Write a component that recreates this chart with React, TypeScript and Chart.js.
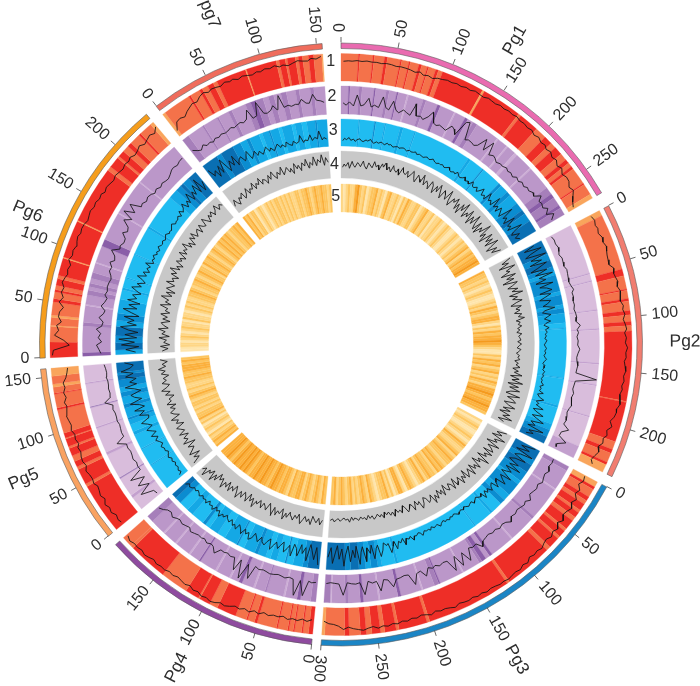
import React, { useEffect, useRef } from "react";
import { Chart, registerables } from "chart.js";

Chart.register(...registerables);

const SECTOR_NAMES = ["Pg1", "Pg2", "Pg3", "Pg4", "Pg5", "Pg6", "pg7"];
const SECTOR_START = [0, 62.6, 118.2, 185.6, 230.5, 267.4, 322.2];
const SECTOR_END = [59.8, 116, 183.8, 228.4, 265.3, 319.8, 356.4];
const SECTOR_LENGTH = [274, 243, 300, 195, 158, 238, 155];
const SECTOR_COLOR = ["#e96bb0", "#f17d70", "#1b85c5", "#8f4b9f", "#f9a261", "#f59d1c", "#ef6c5c"];
const TICKS = [
  [0, 50, 100, 150, 200, 250],
  [0, 50, 100, 150, 200],
  [0, 50, 100, 150, 200, 250, 300],
  [0, 50, 100, 150],
  [0, 50, 100, 150],
  [0, 50, 100, 150, 200],
  [0, 50, 100, 150],
];
const TICK_ON_RIGHT = [true, true, true, false, false, false, false];
const NAME_ANGLE = [29.8, 89.6, 150.9, 206.9, 246.9, 292.9, 338.3];
const NAME_RADIUS = [350, 344, 361, 363, 345, 340, 355];
const TRACK_LABELS = ["1", "2", "3", "4", "5"];
const TRACK_LABEL_RADIUS = [283, 248, 214, 180, 147.5];

// Ring 1 runs (level 0 orange .. 3 red), each run has a level and a length
const R1_L_PG1 = [1,3,1,3,1,3,1,3,1,3,1,3,1,3,1,3,1,3,0,3,1,3,1,3,1,3,1,3,1,3,1,3,1,0];
const R1_W_PG1 = [12,1,9,1,7,2,9,1,5,1,6,2,4,1,5,2,3,30,1.5,28,2,14,8,6,4,6,5,3,3,2,12,1,8,3];
const R1_L_PG2 = [0,1,3,1,3,1,3,1,3,1,3,1,3,1,3,1,3,1,3,0];
const R1_W_PG2 = [4,42,5,10,1,6,2,7,3,5,3,4,52,0.6,30,6,3,7,2,6];
const R1_L_PG3 = [0,3,1,3,1,3,1,3,1,3,1,3,1,3,1,3,1,3,1,3,1,3,1,3,1,3,1,3,1,0];
const R1_W_PG3 = [4,2,6,3,3,5,2,4,3,7,2,5,2,8,3,34,2,60,2,20,2,8,3,6,4,4,8,3,14,2];
const R1_L_PG4 = [3,1,3,1,3,1,3,1,3,1,3,1,3,1,3,1,3,1,3,1,3,1,1];
const R1_W_PG4 = [3,4,1,5,1,3,1,7,1,14,2,5,1,8,14,6,8,1,10,20,28,2,8];
const R1_L_PG5 = [3,1,3,1,3,1,3,1,3,1,3,1,3,1,3,1,0,1,0];
const R1_W_PG5 = [52,3,16,3,6,6,8,2,8,1,5,24,2,14,1,6,3,8,8];
const R1_L_PG6 = [3,1,0,1,0,1,3,1,3,1,3,1,3,0,3,0,3,1,3,1,3,1,3,1,3,1,0];
const R1_W_PG6 = [14,14,1,7,2,12,3,6,2,4,6,3,16,1,34,1,52,4,10,2,6,6,4,10,2,12,3];
const R1_L_PG7 = [0,1,3,1,3,1,3,1,3,0,3,1,3,1,3,1,3,1,3,1,0];
const R1_W_PG7 = [3,28,2,10,3,6,6,4,30,1,30,3,6,2,8,3,4,6,5,8,1];

// Ring 2 runs (level 0 pale .. 3 dark purple)
const R2_L_PG1 = [1,3,1,2,1,3,1,2,1,3,1,0,1,2,1,3,1,0,1,3,1,2,1,0,1,0,1,0,1,0,1,2,3,2,3,2];
const R2_W_PG1 = [5,1,6,2,8,1,7,2,5,1,6,1,10,2,8,2,10,1,7,2,4,3,16,1,7,1,6,2,12,1,16,5,3,6,2,5];
const R2_L_PG2 = [1,2,1,2,1,2,1,2,1,2,1,2,1,2,1,2];
const R2_W_PG2 = [40,1,5,1,22,1,14,1,26,1,16,1,24,1,24,10];
const R2_L_PG3 = [2,1,0,1,2,1,0,1,3,1,3,2,1,0,1,3,2,1,0,1,3,1,0,1,3,1,2,1,0,2];
const R2_W_PG3 = [3,14,1,22,2,18,1,16,2,3,3,2,12,1,16,1,3,8,1,14,2,12,1,10,2,8,2,9,1,4];
const R2_L_PG4 = [2,1,3,1,0,1,2,1,0,1,3,1,0,1,0,1,3,1,0,1,0,1,0,1,2];
const R2_W_PG4 = [3,6,2,7,1,10,1,6,1,7,2,5,1,8,1,10,1,6,1,9,1,8,1,9,4];
const R2_L_PG5 = [1,2,1,3,1,2,1,2,1,3,1,2,1];
const R2_W_PG5 = [10,2,14,1,18,2,18,1,14,1,16,1,12];
const R2_L_PG6 = [3,1,2,1,0,1,2,1,2,1,2,1,0,1,3,1,0,1,0,1];
const R2_W_PG6 = [3,22,3,14,1,8,4,3,3,4,5,8,1,14,6,24,1,30,1,40];
const R2_L_PG7 = [2,1,2,1,2,1,2,1,2,3,2,1,2,1,2,1,2,1,2,1];
const R2_W_PG7 = [4,9,1,8,1,6,2,8,3,3,4,3,3,4,3,5,2,6,2,6];

// Ring 3 runs (level 0 sky .. 3 deep blue)
const R3_L_PG1 = [0,1,0,2,0,1,0,1,0,1,0,1,0,2,0,2,1,2,1,2,3,2,3];
const R3_W_PG1 = [12,1,10,1,6,1,10,2,8,1,40,2,10,1,14,2,6,3,7,6,3,6,8];
const R3_L_PG2 = [3,2,3,2,1,2,1,2,1,2,1,0,1,0,1,0,1,0,1,2,3];
const R3_W_PG2 = [12,5,6,4,3,14,3,8,3,4,8,4,1,40,1,22,2,14,5,6,6];
const R3_L_PG3 = [3,2,3,2,1,2,1,2,0,1,0,1,0,1,0,1,2,1,2,3,2,3];
const R3_W_PG3 = [8,4,6,8,3,10,5,4,8,2,14,1,62,2,10,3,5,4,5,6,4,14];
const R3_L_PG4 = [3,2,1,0,2,0,1,0,1,2,1,0,2,1,0,1,0,2,0,1,0,2,3];
const R3_W_PG4 = [7,3,6,4,1,5,4,3,5,2,7,4,1,8,5,6,3,2,8,4,6,4,3];
const R3_L_PG5 = [0,1,0,1,0,1,0,1,2,1,2,1,2,1,2,3,2,3];
const R3_W_PG5 = [22,1,14,1,12,3,6,4,2,8,3,6,4,4,6,4,2,8];
const R3_L_PG6 = [1,3,2,3,1,2,1,0,1,0,1,0,1,0,1,0,1,2,3,2,3];
const R3_W_PG6 = [4,6,6,8,5,6,12,8,2,8,1,20,1,24,2,30,8,5,3,6,8];
const R3_L_PG7 = [3,2,3,2,1,2,1,0,1,2,1,0,1,0,1,0,1,2,1];
const R3_W_PG7 = [10,3,8,5,4,2,6,2,4,1,5,2,6,2,4,3,5,1,6];

// Ring 4 is one flat run in every sector
const R4_L = [0];
const R4_W = [1];

// Ring 5 cells, equal length (level 0 pale yellow .. 4 orange)
const H5_PG1 = [1,0,1,2,1,1,3,4,2,1,2,0,1,2,2,3,1,2,1,0,2,3,1,1,2,1,0,2,1,3,2,1,1,2,2,0,1,2,3,1,1,2,0,1,1,2,1,0,1,2,1,0,0,1,2,1,0,1,2,1,2,3,1,2,3,2,3,3,4,3];
const H5_PG2 = [3,2,2,1,2,1,0,1,2,1,0,0,1,2,1,3,2,1,2,3,3,1,0,2,1,3,2,3,3,4,3,2,1,0,0,2,1,3,2,3,1,2,3,1,2,1,3,2,1,3,3,4,3,2,3,3,4,3,3,2];
const H5_PG3 = [1,0,1,2,1,0,0,1,2,1,0,1,3,2,1,1,2,3,1,2,3,2,2,1,2,3,2,3,1,2,2,3,2,1,3,2,1,0,1,2,3,2,0,1,3,3,1,0,2,1,3,2,2,1,0,1,2,3,1,2,3,2,1,2,1,3,2,1,2,3,2,1,3,2];
const H5_PG4 = [2,3,1,2,3,2,1,2,3,2,1,3,3,2,2,3,1,2,3,3,2,3,3,4,3,2,3,3,4,3,3,4,3,3,2,3,4,3,4,3,3,4,3,2,3,4,3,3,3];
const H5_PG5 = [3,2,3,2,1,2,0,1,2,1,0,2,1,3,2,2,1,2,1,2,2,1,2,3,2,1,2,1,1,2,2,3,2,2,3,3,3,2,3,2];
const H5_PG6 = [0,0,1,1,0,1,2,1,0,1,2,1,1,0,2,1,1,0,1,2,1,2,1,1,2,2,3,2,1,2,2,3,2,1,2,3,2,2,1,3,2,2,3,2,1,2,3,2,1,2,3,2,3,2,3,2,1,2,2,3,2,3];
const H5_PG7 = [3,2,3,1,2,2,0,1,2,1,0,1,2,1,2,1,2,2,1,2,1,2,1,2,1,1,2,2,1,2,2,3,2,1,2,3,2,2,3,2,2,1,2];

// Line values in percent of the track's height, inner edge = 0
const L1_PG1 = [70,72,71,74,72,75,73,74,72,75,74,71,73,72,70,66,72,64,68,63,70,72,76,74,78,75,80,77,83,80,78,84,82,80,85,82,86,83,87,82,84,80,84,76,82,74,78,70,76,66,72,60,68,55,62,60,48,55,42,30,22];
const L1_PG2 = [63,68,62,66,60,68,64,70,65,62,60,58,72,66,70,74,68,76,72,70,78,74,80,72,78,82,74,80,76,84,78,80,74,78,82,76,80,74,78,72,76,80,72,74,70,60,72,58,65,55,60,48,58,50,44,54];
const L1_PG3 = [50,55,45,60,52,68,58,72,64,60,74,62,78,70,80,72,76,84,78,82,76,88,82,90,86,88,92,88,90,86,84,88,82,86,80,84,82,78,86,80,76,78,72,80,74,70,76,72,78,74,80,76,82,78,84,76,80,86,82,78,72,80,68,62,60,52];
const L1_PG4 = [50,58,52,60,56,62,54,60,58,64,58,68,62,72,66,74,70,78,84,80,88,92,86,90,82,86,78,84,80,76,82,78,84,82,86,80,86,90,84,88,86,92,84];
const L1_PG5 = [70,74,68,78,72,80,68,76,70,66,74,70,72,78,68,74,72,66,70,62,68,64,72,66,70,74,68,64,70,60,66,58,62,50,44,40];
const L1_PG6 = [92,88,30,50,84,70,78,62,74,72,60,78,66,76,70,80,74,68,72,66,78,70,74,68,72,76,70,74,72,66,70,74,68,72,66,70,62,68,64,60,66,62,58,64,60,66,58,62,70,60,66,72,64,80];
const L1_PG7 = [20,46,50,44,56,62,70,66,78,84,76,82,80,76,84,78,82,74,80,76,72,78,74,80,76,82,74,78,72,78,84,80,78,86,82,90];

const L2_PG1 = [38,30,42,28,68,30,35,60,30,38,32,72,36,30,64,34,28,42,36,30,76,34,38,30,46,68,32,28,34,30,26,50,44,28,86,92,30,36,34,30,38,74,36,78,34,42,38,30,36,34,40,34,38,32,42,36,44,38,46,42,50,44,66,48,52,46,60,44,68,50];
const L2_PG2 = [20,24,22,26,22,18,24,22,20,26,24,22,20,24,30,22,24,20,22,18,22,24,20,34,22,26,20,24,22,30,24,20,22,26,24,22,98,24,22,20,26,22,24,30,24,20,24,26,22,46,24,22,54,26,28];
const L2_PG3 = [40,42,38,48,40,44,50,40,46,42,38,54,42,48,44,40,46,42,56,44,40,46,38,42,36,40,44,60,38,42,36,78,38,80,36,84,40,38,44,36,42,34,60,36,40,76,36,34,38,40,64,36,32,70,34,38,30,76,32,36,34,30,74,34,32,30,34];
const L2_PG4 = [33,36,32,86,34,90,34,30,36,32,30,34,36,32,30,34,28,78,30,90,26,70,28,32,26,30,28,50,32,28,34,26,30,28,32,36,26,30,34,28,32,40,30,34,44,52];
const L2_PG5 = [22,26,70,24,60,24,72,22,24,20,26,22,20,24,22,52,20,22,20,18,22,20,20,24,20,46,22,20,22,20,20,24,20,22,26];
const L2_PG6 = [35,42,50,32,44,36,52,34,30,46,32,28,44,34,28,38,32,36,34,30,34,44,40,52,38,44,62,36,40,32,34,52,38,44,70,46,86,50,80,42,46,38,44,40,32,38,30,36,32,30,36,44,46,42,48,50];
const L2_PG7 = [48,36,30,42,32,36,30,38,34,40,36,38,44,38,42,46,40,48,78,42,46,92,46,42,48,62,44,92,46,50,44,48,46,62,46,44,74,52,48,42];

const L3_PG1 = [18,27,22,30,20,25,17,24,28,21,19,26,23,30,22,18,25,21,27,24,20,28,23,26,19,22,25,21,24,27,23,20,26,22,24,28,21,25,23,20,24,27,22,25,30,23,21,26,24,28,22,25,32,24,21,27,23,34,25,22,28,36,24,30,22,40,26,24,34,20,28,46,22,30,18,52,26,34,20,62,24,38,18,44,28,16,70,24,36,14,58,20,30,12,66,26,14,42,20,34];
const L3_PG2 = [66,24,88,40,18,94,32,70,22,84,46,16,76,28,92,38,60,20,82,30,54,72,24,64,36,18,58,44,26,68,30,20,50,36,24,46,28,20,38,24,30,22,26,20,28,24,18,22,26,20,24,18,22,28,20,16,24,22,18,26,20,24,18,22,20,30,18,24,20,36,16,26,44,18,30,22,52,16,28,60,20,38,70,24,44,18,82,30,50,24];
const L3_PG3 = [84,32,68,20,90,44,26,76,36,18,62,30,80,24,54,38,20,70,28,46,64,24,34,52,22,30,44,26,38,24,48,22,32,26,20,28,34,22,26,30,24,20,28,22,26,32,24,20,26,22,30,24,28,20,26,34,22,24,28,20,30,24,26,22,36,24,20,28,26,40,22,30,24,46,20,34,26,52,22,38,60,24,30,18,44,66,22,34,70,18,48,26,76,20,40,84,16,58,30,72,14,46,88,24,62,12,36,78,20,56];
const L3_PG4 = [88,24,70,36,16,78,30,54,22,66,40,26,72,34,48,64,28,44,58,36,50,70,32,46,62,54,38,60,48,34,56,66,42,52,36,60,44,32,54,40,48,30,44,36,26,40,32,48,28,36,24,42,30,34,22,38,28,32,24,34,28,22,30,24,32,36,28,40];
const L3_PG5 = [34,22,28,20,24,18,26,20,30,22,18,26,24,32,20,28,38,24,46,22,34,52,26,40,60,30,24,56,34,68,28,44,76,30,54,66,26,48,80,36,60,34,72,42,86,50,38,70];
const L3_PG6 = [26,62,14,78,30,88,22,66,18,54,84,26,60,36,74,20,50,82,32,64,24,72,40,58,28,46,68,34,52,24,40,60,28,44,22,36,26,48,20,30,24,34,22,28,20,32,24,22,28,20,26,30,22,24,20,28,34,22,26,24,32,22,40,26,36,50,24,44,30,64,26,54,36,70,30,82,24,58];
const L3_PG7 = [74,42,58,28,66,34,82,46,24,60,36,70,28,44,52,30,38,60,26,34,48,28,40,24,32,46,26,36,22,30,42,26,34,24,40,28,22,36,26,30,52,24,32,28,48,26,36,30,58,24,32,26];

const L4_PG1 = [38,50,42,56,35,61,47,40,58,52,44,66,49,38,62,55,46,70,52,60,43,68,57,74,50,63,46,72,58,51,66,44,76,60,54,70,48,64,78,52,42,72,60,50,82,46,66,56,40,74,62,36,68,48,80,52,34,70,58,42,84,46,30,66,54,76,36,62,28,72,48,86,32,58,44,78,26,64,38,82,50,30,70,24,60,42,88,34,56,20,74,40,66,28,80,46,22,62,36,70];
const L4_PG2 = [86,48,72,30,90,52,64,26,80,42,68,22,76,54,34,70,46,84,32,60,40,74,50,28,66,44,58,36,62,48,70,38,52,44,56,40,48,36,54,42,46,50,38,52,44,36,50,42,34,46,40,48,30,44,36,52,26,48,34,64,22,56,30,72,18,60,28,68,36,20,74,30,52,66,24,44,70,28,58,20,62,38,76,26,50];
const L4_PG3 = [82,46,70,34,90,52,66,28,84,42,60,74,36,78,50,64,30,86,44,58,26,72,48,62,34,76,40,54,68,30,60,46,72,38,52,62,28,66,44,34,58,48,26,64,38,52,30,60,42,70,32,48,56,36,28,50,64,34,44,26,58,38,30,46,54,32,24,48,36,42,28,52,34,44,30,38,26,46,32,40,28,36,44,30,38,26,42,32,36,28,40,34,30,38,26,44,32,36,28,34,40,30,36,42,32,38];
const L4_PG4 = [40,58,34,52,44,30,62,42,54,36,48,66,32,50,40,60,46,34,56,42,68,30,52,44,62,36,70,46,28,58,48,38,60,34,52,44,72,40,56,30,66,48,36,62,42,74,54,34,60,46,70,38,64,50,78,44,58,36,72,52,84,46,66,56,90,60,74];
const L4_PG5 = [84,52,70,40,78,60,46,66,30,74,50,62,38,70,44,56,68,34,60,48,72,36,54,64,42,58,34,66,46,52,30,60,40,70,48,36,62,44,54,32,58,42,66,38,50,30,56];
const L4_PG6 = [46,24,52,18,40,30,58,20,48,36,62,26,44,54,22,50,34,60,28,46,38,68,30,52,42,72,34,58,26,62,48,36,70,44,54,32,64,46,76,40,56,34,66,48,58,38,72,44,62,52,78,42,60,36,68,50,74,46,58,66,42,70,54,48,76,60,44,68,56,72,50,64,80,54,70,60];
const L4_PG7 = [26,48,32,20,44,36,54,28,40,60,34,50,44,66,38,56,48,70,42,58,52,36,64,46,72,54,40,62,50,76,44,58,68,48,60,38,74,52,64,42,70,56,80,46,66,54,84,50,72,60,88,48,76,58];

const TRACK_1_LINES = [L1_PG1, L1_PG2, L1_PG3, L1_PG4, L1_PG5, L1_PG6, L1_PG7];
const TRACK_2_LINES = [L2_PG1, L2_PG2, L2_PG3, L2_PG4, L2_PG5, L2_PG6, L2_PG7];
const TRACK_3_LINES = [L3_PG1, L3_PG2, L3_PG3, L3_PG4, L3_PG5, L3_PG6, L3_PG7];
const TRACK_4_LINES = [L4_PG1, L4_PG2, L4_PG3, L4_PG4, L4_PG5, L4_PG6, L4_PG7];

// Ring geometry in px: [inner, outer]
const ARC_BAND = [296, 301.5];
const BANDS = [
  [263.5, 291],
  [230.5, 258.5],
  [198.5, 225.5],
  [166.5, 193.5],
  [132.5, 160.5],
];

const P1 = ["#f9a55c", "#f4724a", "#f04a32", "#ee2e27"];
const P2 = ["#cdaed6", "#bb97c9", "#a67fba", "#8a5ea8"];
const P2L = ["#e0c8e2", "#d9bddc", "#c3a0ce", "#a584bd"];
const P3 = ["#20bcf1", "#14a8e5", "#0b8cd0", "#0a6fb3"];
const P4 = ["#c8c8c8"];
const P5 = ["#fee5ac", "#fed685", "#fdc55f", "#fbb03c", "#f49a1e"];

const R1_L = [R1_L_PG1, R1_L_PG2, R1_L_PG3, R1_L_PG4, R1_L_PG5, R1_L_PG6, R1_L_PG7];
const R1_W = [R1_W_PG1, R1_W_PG2, R1_W_PG3, R1_W_PG4, R1_W_PG5, R1_W_PG6, R1_W_PG7];
const R2_L = [R2_L_PG1, R2_L_PG2, R2_L_PG3, R2_L_PG4, R2_L_PG5, R2_L_PG6, R2_L_PG7];
const R2_W = [R2_W_PG1, R2_W_PG2, R2_W_PG3, R2_W_PG4, R2_W_PG5, R2_W_PG6, R2_W_PG7];
const R3_L = [R3_L_PG1, R3_L_PG2, R3_L_PG3, R3_L_PG4, R3_L_PG5, R3_L_PG6, R3_L_PG7];
const R3_W = [R3_W_PG1, R3_W_PG2, R3_W_PG3, R3_W_PG4, R3_W_PG5, R3_W_PG6, R3_W_PG7];
const R5_L = [H5_PG1, H5_PG2, H5_PG3, H5_PG4, H5_PG5, H5_PG6, H5_PG7];

const CX = 341;
const CY = 344.5;
const SCALE_R = 330;
const STEP = 0.25;
const SLOTS = 1440;
const padding = { left: CX - SCALE_R, right: 700 - CX - SCALE_R, top: CY - SCALE_R, bottom: 686 - CY - SCALE_R };

function ringDataset(levels: number[][], widths: (number[] | null)[], palettes: string[][], weight: number) {
  const data: number[] = [];
  const colors: string[] = [];
  let cursor = 0;
  levels.forEach((lvls, s) => {
    if (SECTOR_START[s] > cursor) {
      data.push(SECTOR_START[s] - cursor);
      colors.push("rgba(0,0,0,0)");
    }
    const span = SECTOR_END[s] - SECTOR_START[s];
    const runs = widths[s];
    const total = runs ? runs.reduce((a, b) => a + b, 0) : lvls.length;
    lvls.forEach((lv, i) => {
      data.push((span * (runs ? runs[i] : 1)) / total);
      colors.push(palettes[s][lv]);
    });
    cursor = SECTOR_END[s];
  });
  data.push(360 - cursor);
  colors.push("rgba(0,0,0,0)");
  return { data, backgroundColor: colors, borderColor: colors, borderWidth: 0.3, weight };
}

function arcDataset(weight: number) {
  const data: number[] = [];
  const colors: string[] = [];
  const borders: string[] = [];
  let cursor = 0;
  SECTOR_START.forEach((st, s) => {
    if (st > cursor) {
      data.push(st - cursor);
      colors.push("rgba(0,0,0,0)");
      borders.push("rgba(0,0,0,0)");
    }
    data.push(SECTOR_END[s] - st);
    colors.push(SECTOR_COLOR[s]);
    borders.push("#5c5c5c");
    cursor = SECTOR_END[s];
  });
  data.push(360 - cursor);
  colors.push("rgba(0,0,0,0)");
  borders.push("rgba(0,0,0,0)");
  return { data, backgroundColor: colors, borderColor: borders, borderWidth: 0.6, weight };
}

const spacer = (weight: number) => ({ data: [1], backgroundColor: "rgba(0,0,0,0)", borderColor: "rgba(0,0,0,0)", borderWidth: 0, weight });

function lineDatasets() {
  const out: any[] = [];
  [TRACK_1_LINES, TRACK_2_LINES, TRACK_3_LINES, TRACK_4_LINES].forEach((track, t) => {
    const [inner, outer] = BANDS[t];
    track.forEach((vals, s) => {
      const row: (number | null)[] = new Array(SLOTS).fill(null);
      vals.forEach((v, i) => {
        const a = SECTOR_START[s] + 0.4 + (i / (vals.length - 1)) * (SECTOR_END[s] - SECTOR_START[s] - 0.8);
        row[Math.round(a / STEP)] = inner + (v / 100) * (outer - inner);
      });
      out.push({ data: row, borderColor: "#141414", borderWidth: 0.85, pointRadius: 0, spanGaps: true, fill: false, tension: 0 });
    });
  });
  return out;
}

const FONT = '16px "Liberation Sans", Arial, sans-serif';
const NAME_FONT = '17.5px "Liberation Sans", Arial, sans-serif';
const INK = "#2e2e2e";

// A radar line normally closes on itself; each sector's track is an open run.
const openLinePlugin = {
  id: "openLine",
  beforeDatasetsDraw(chart: any) {
    chart.getSortedVisibleDatasetMetas().forEach((meta: any) => {
      const line = meta.dataset;
      line._loop = false;
      line._fullLoop = false;
      delete line._segments;
      delete line._path;
    });
  },
};

const axisPlugin = {
  id: "sectorAxes",
  afterDraw(chart: any) {
    const { ctx } = chart;
    const r = chart.scales.r;
    const at = (deg: number, radius: number) => r.getPointPositionForValue(deg / STEP, radius);
    ctx.save();
    ctx.fillStyle = INK;
    ctx.textBaseline = "middle";
    SECTOR_START.forEach((st, s) => {
      ctx.font = FONT;
      TICKS[s].forEach((v) => {
        const a = st + (v / SECTOR_LENGTH[s]) * (SECTOR_END[s] - st);
        const p0 = at(a, ARC_BAND[1]);
        const p1 = at(a, ARC_BAND[1] + 5.5);
        ctx.strokeStyle = "#444";
        ctx.lineWidth = 0.8;
        ctx.beginPath();
        ctx.moveTo(p0.x, p0.y);
        ctx.lineTo(p1.x, p1.y);
        ctx.stroke();
        const p = at(a, 312);
        ctx.save();
        ctx.translate(p.x, p.y);
        const right = TICK_ON_RIGHT[s];
        ctx.rotate(((right ? a - 90 : a + 90) * Math.PI) / 180);
        ctx.textAlign = right ? "left" : "right";
        ctx.fillText(String(v), 0, 0);
        ctx.restore();
      });
      ctx.font = NAME_FONT;
      const a = NAME_ANGLE[s];
      const p = at(a, NAME_RADIUS[s]);
      ctx.save();
      ctx.translate(p.x, p.y);
      ctx.rotate(((TICK_ON_RIGHT[s] ? a - 90 : a + 90) * Math.PI) / 180);
      ctx.textAlign = "center";
      ctx.fillText(SECTOR_NAMES[s], 0, 0);
      ctx.restore();
    });
    ctx.font = FONT;
    TRACK_LABELS.forEach((t, i) => {
      const p = at(357.9, TRACK_LABEL_RADIUS[i]);
      ctx.textAlign = "center";
      ctx.fillText(t, p.x, p.y);
    });
    ctx.restore();
  },
};

export default function App() {
  const ringRef = useRef<HTMLCanvasElement>(null);
  const lineRef = useRef<HTMLCanvasElement>(null);

  useEffect(() => {
    const rings = new Chart(ringRef.current as HTMLCanvasElement, {
      type: "doughnut",
      data: {
        labels: [],
        datasets: [
          arcDataset(ARC_BAND[1] - ARC_BAND[0]),
          spacer(ARC_BAND[0] - BANDS[0][1]),
          ringDataset(R1_L, R1_W, R1_L.map(() => P1), BANDS[0][1] - BANDS[0][0]),
          spacer(BANDS[0][0] - BANDS[1][1]),
          ringDataset(R2_L, R2_W, [P2, P2L, P2, P2, P2L, P2, P2], BANDS[1][1] - BANDS[1][0]),
          spacer(BANDS[1][0] - BANDS[2][1]),
          ringDataset(R3_L, R3_W, R3_L.map(() => P3), BANDS[2][1] - BANDS[2][0]),
          spacer(BANDS[2][0] - BANDS[3][1]),
          ringDataset(SECTOR_START.map(() => R4_L), SECTOR_START.map(() => R4_W), SECTOR_START.map(() => P4), BANDS[3][1] - BANDS[3][0]),
          spacer(BANDS[3][0] - BANDS[4][1]),
          ringDataset(R5_L, R5_L.map(() => null), R5_L.map(() => P5), BANDS[4][1] - BANDS[4][0]),
        ] as any,
      },
      options: {
        animation: false,
        responsive: false,
        rotation: 0,
        circumference: 360,
        radius: ARC_BAND[1],
        cutout: `${(BANDS[4][0] / ARC_BAND[1]) * 100}%`,
        layout: { padding },
        plugins: { legend: { display: false }, tooltip: { enabled: false } },
      } as any,
    });

    const lines = new Chart(lineRef.current as HTMLCanvasElement, {
      type: "radar",
      data: { labels: new Array(SLOTS).fill(""), datasets: lineDatasets() },
      options: {
        animation: false,
        responsive: false,
        layout: { padding },
        elements: { line: { borderJoinStyle: "round" } },
        scales: {
          r: {
            min: 0,
            max: SCALE_R,
            grid: { display: false },
            angleLines: { display: false },
            ticks: { display: false },
            pointLabels: { display: false },
          },
        },
        plugins: { legend: { display: false }, tooltip: { enabled: false } },
      } as any,
      plugins: [openLinePlugin, axisPlugin],
    });

    return () => {
      rings.destroy();
      lines.destroy();
    };
  }, []);

  const layer: React.CSSProperties = { position: "absolute", left: 0, top: 0 };
  return (
    <div style={{ position: "absolute", left: 0, top: 0, width: 700, height: 686, background: "#fff" }}>
      <canvas ref={ringRef} width={700} height={686} style={layer} />
      <canvas ref={lineRef} width={700} height={686} style={layer} />
    </div>
  );
}
